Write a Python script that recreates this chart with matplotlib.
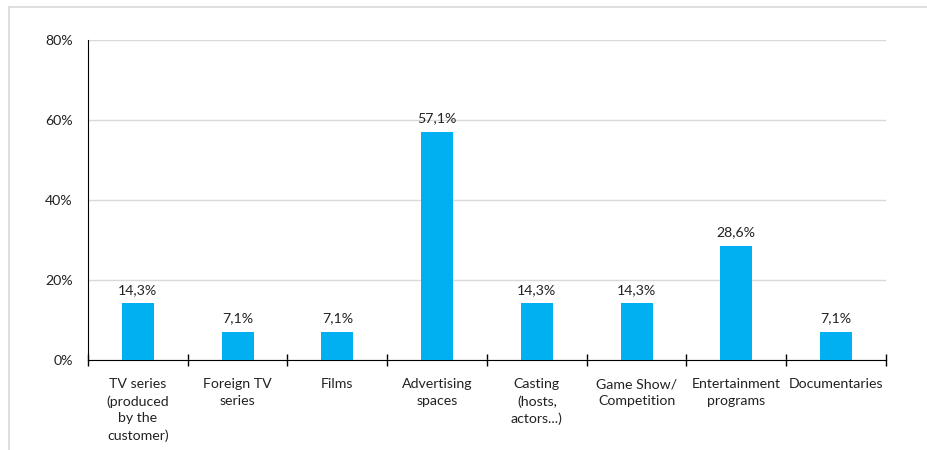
import matplotlib
matplotlib.use("Agg")
import matplotlib.pyplot as plt
from matplotlib.lines import Line2D
from matplotlib.ticker import FixedLocator, FuncFormatter

categories = ["TV series\n(produced\nby the\ncustomer)", "Foreign TV\nseries", "Films",
              "Advertising\nspaces", "Casting\n(hosts,\nactors...)", "Game Show/\nCompetition",
              "Entertainment\nprograms", "Documentaries"]
values = [14.3, 7.1, 7.1, 57.1, 14.3, 14.3, 28.6, 7.1]
value_labels = ["14,3%", "7,1%", "7,1%", "57,1%", "14,3%", "14,3%", "28,6%", "7,1%"]
yticks = [0, 20, 40, 60, 80]

plt.rcParams['font.family'] = ['Lato', 'DejaVu Sans']
fs = 10.2
fig = plt.figure(figsize=(9.28, 4.5), dpi=100)
ax = fig.add_axes([88/928, 1-360/450, (886-88)/928, 320/450])

x = list(range(len(categories)))
ax.bar(x, values, width=0.32, color="#00B0F0", zorder=3)
for xi, v, lab in zip(x, values, value_labels):
    ax.annotate(lab, (xi, v), xytext=(0, 5), textcoords="offset points",
                ha="center", va="bottom", fontsize=fs, color="#222222")

ax.set_xlim(-0.5, len(categories) - 0.5)
ax.set_ylim(0, 80)
ax.yaxis.set_major_locator(FixedLocator(yticks))
ax.yaxis.set_major_formatter(FuncFormatter(lambda v, p: f"{int(v)}%"))
ax.grid(axis="y", color="#d9d9d9", linewidth=1, zorder=0)
ax.tick_params(axis="y", length=0, pad=11, labelsize=fs, labelcolor="#222222")

ax.set_xticks([i + 0.5 for i in range(-1, len(categories))], minor=False)
ax.set_xticklabels([])
ax.tick_params(axis="x", which="major", direction="inout", length=8, width=1, color="black")
ax.set_xticks(x, minor=True)
ax.set_xticklabels(categories, minor=True, fontsize=fs, color="#222222", linespacing=1.47)
ax.tick_params(axis="x", which="minor", length=0, pad=13)

for s in ["top", "right"]:
    ax.spines[s].set_visible(False)
ax.spines["left"].set_color("black")
ax.spines["bottom"].set_color("black")

# outer frame lines (top and left)
fig.add_artist(Line2D([9/928, 1], [1-7/450, 1-7/450], color="#d9d9d9", linewidth=1.2))
fig.add_artist(Line2D([9/928, 9/928], [0, 1-7/450], color="#d9d9d9", linewidth=1.2))

fig.savefig("out.png", dpi=100)
